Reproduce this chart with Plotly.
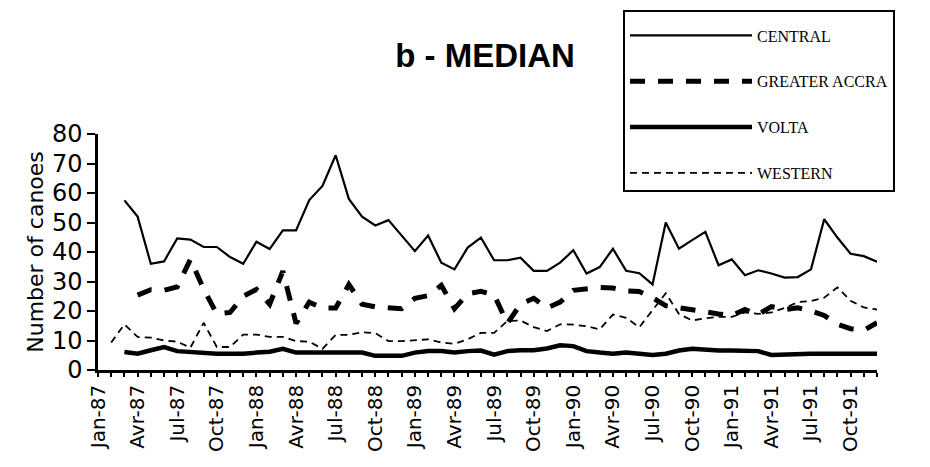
import plotly.graph_objects as go

# ---- data (None = no value) ----
tick_labels = ["Jan-87", "Avr-87", "Jul-87", "Oct-87",
               "Jan-88", "Avr-88", "Jul-88", "Oct-88",
               "Jan-89", "Avr-89", "Jul-89", "Oct-89",
               "Jan-90", "Avr-90", "Jul-90", "Oct-90",
               "Jan-91", "Avr-91", "Jul-91", "Oct-91"]

central = [None, None, 57.5, 52, 36, 36.8, 44.6, 44.2, 41.7, 41.7, 38.3, 36,
           43.5, 41, 47.3, 47.3, 57.6, 62.4, 72.8, 58, 52, 49, 50.8, 45.6,
           40.3, 45.6, 36.4, 34.1, 41.5, 44.9, 37.2, 37.2, 38.1, 33.6, 33.6, 36.4,
           40.6, 32.7, 34.9, 41.1, 33.6, 32.8, 29, 50, 41.1, 44, 46.8, 35.5,
           37.5, 32.1, 33.8, 32.7, 31.3, 31.5, 34.1, 51.1, 44.9, 39.4, 38.6, 36.7]

greater_accra = [None, None, None, 25.4, 27.2, 27.0, 28.2, 37.5, 27.5, 19, 19.5, 25,
                 27.3, 22.3, 33.5, 15.8, 23, 21, 21, 29, 22.3, 21.4, 21.3, 20.8,
                 24.3, 25.2, 28.7, 20.8, 25.8, 26.7, 25.5, 15.8, 22.3, 24.3, 21, 23,
                 27, 27.7, 28, 27.8, 26.8, 26.6, 24.5, 21.8, 21.1, 20.5, 19.4, 19,
                 18.5, 20.5, 18.8, 21.5, 20.5, 21.1, 20, 18.5, 15.5, 14, 13.5, 16]

volta = [None, None, 6.1, 5.5, 6.7, 7.8, 6.4, 6.1, 5.5, 5.5, 5.5, 5.5,
         5.9, 6.2, 7.2, 5.9, 5.9, 5.9, 5.9, 5.9, 5.9, 4.8, 4.8, 4.8,
         5.9, 6.4, 6.4, 5.9, 6.4, 6.6, 5.2, 6.4, 6.7, 6.7, 7.3, 8.4,
         8.1, 6.4, 5.9, 5.5, 5.9, 5.5, 5.1, 5.5, 6.6, 7.2, 6.8, 6.6,
         6.6, 6.6, 6.4, 5.1, 5.3, 5.5, 5.5, 5.5, 5.5, 5.5, 5.5, 5.5]

western = [None, 9.3, 15.5, 11.2, 11, 10, 9.6, 7.6, 16, 7.8, 7.8, 12,
           12, 11.2, 11.2, 9.8, 9.6, 7.2, 11.9, 11.9, 12.8, 12.5, 9.8, 9.8,
           10, 10.4, 9.3, 8.9, 10.4, 12.6, 12.6, 16.6, 16.8, 14.5, 13.2, 15.5,
           15.4, 14.8, 13.8, 18.8, 17.7, 14.5, 20.3, 26, 19, 16.8, 17.5, 18,
           18, 19.5, 19, 19.5, 21, 23, 23.4, 24.5, 28, 23.5, 21.2, 20.5]

months = list(range(len(central)))
label_step = 3
ticktext = [tick_labels[m // label_step] if m % label_step == 0 else "" for m in months]

series = [
    ("CENTRAL", central, dict(color="black", width=2.2, dash="solid")),
    ("GREATER ACCRA", greater_accra, dict(color="black", width=5, dash="15px,13px")),
    ("VOLTA", volta, dict(color="black", width=4.5, dash="solid")),
    ("WESTERN", western, dict(color="black", width=1.8, dash="7px,5px")),
]

fig = go.Figure()
for name, vals, line in series:
    fig.add_trace(go.Scatter(x=months, y=vals, mode="lines", name=name,
                             line=line, legendgroup=name, connectgaps=False))

tick_font = dict(family="DejaVu Sans", size=20, color="black")

fig.update_layout(
    width=930, height=467,
    margin=dict(l=98, r=53, t=133, b=97),
    paper_bgcolor="white", plot_bgcolor="white",
    showlegend=True,
    title=dict(text="<b>b - MEDIAN</b>", x=485 / 930, xanchor="center",
               y=1 - 55 / 467, yanchor="middle",
               font=dict(family="Liberation Sans", size=33, color="black")),
    xaxis=dict(range=[0, 59], tickmode="array", tickvals=months, ticktext=ticktext,
               tickangle=-90, ticks="outside", ticklen=4, tickwidth=2, tickcolor="black",
               showline=True, linecolor="black", linewidth=2.5,
               showgrid=False, zeroline=False, tickfont=tick_font),
    xaxis2=dict(range=[0, 59], overlaying="x", anchor="y", side="bottom",
                tickmode="array", tickvals=months, ticks="inside", ticklen=6,
                tickwidth=2, tickcolor="black", showticklabels=False,
                showline=False, showgrid=False, zeroline=False),
    yaxis=dict(range=[0, 80], tickmode="linear", tick0=0, dtick=10,
               ticks="outside", ticklen=8, tickwidth=2, tickcolor="black",
               showline=True, linecolor="black", linewidth=2.5,
               showgrid=False, zeroline=False,
               tickfont=dict(family="DejaVu Sans", size=24, color="black"),
               title=dict(text="Number of canoes", standoff=3,
                          font=dict(family="DejaVu Sans", size=22, color="black"))),
    yaxis2=dict(range=[0, 80], overlaying="y", anchor="x", side="left",
                tickmode="linear", tick0=0, dtick=10, ticks="inside", ticklen=8,
                tickwidth=2, tickcolor="black", showticklabels=False,
                showline=False, showgrid=False, zeroline=False),
    legend=dict(x=(623 - 98) / 779, y=(370 - 10) / 237, xanchor="left", yanchor="top",
                bordercolor="black", borderwidth=2, bgcolor="white",
                font=dict(family="Liberation Serif", size=16, color="black"),
                title=dict(text=" ", font=dict(size=5)),
                traceorder="grouped", tracegroupgap=22, itemwidth=122,
                entrywidth=325, entrywidthmode="pixels"),
)

fig.write_html("out.html")
